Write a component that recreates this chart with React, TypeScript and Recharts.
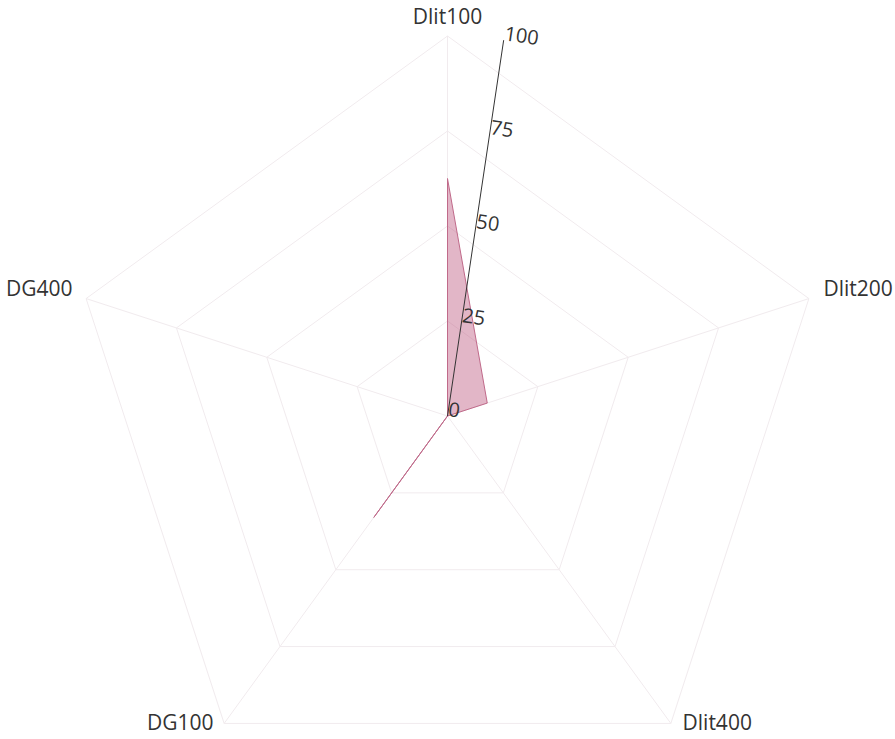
import { PolarAngleAxis, PolarGrid, PolarRadiusAxis, Radar, RadarChart } from "recharts";

const metrics = ["Dlit100", "Dlit200", "Dlit400", "DG100", "DG400"];
const scores = [62.5, 11, 0, 33, 0];
const radiusTicks = [0, 25, 50, 75, 100];

const data = metrics.map((m, i) => ({ metric: m, value: scores[i] }));

// angle labels sit with their baseline on the tick point, nudged sideways
function AngleTick(props: any) {
  const { x, y, textAnchor, payload } = props;
  const dx = textAnchor === "start" ? 7 : textAnchor === "end" ? -6 : 0;
  const dy = textAnchor === "middle" ? -4 : 0;
  return (
    <text x={x + dx} y={y + dy} textAnchor={textAnchor} fill="#333" fontSize={21}>
      {payload.value}
    </text>
  );
}

export default function App() {
  return (
    <div style={{ position: "absolute", left: 0, top: 0, fontFamily: "'Open Sans', sans-serif" }}>
      <RadarChart
        width={895}
        height={739}
        data={data}
        cx={447.5}
        cy={416}
        outerRadius={380}
        margin={{ top: 0, right: 0, bottom: 0, left: 0 }}
      >
        <PolarGrid stroke="#f1ebee" />
        <PolarAngleAxis dataKey="metric" tickLine={false} axisLine={false} tick={<AngleTick />} />
        <PolarRadiusAxis
          angle={81.5}
          domain={[0, 100]}
          ticks={radiusTicks}
          tickLine={false}
          stroke="#333"
          tick={{ fill: "#333", fontSize: 20 }}
        />
        <Radar
          dataKey="value"
          stroke="#c06a8a"
          strokeWidth={1}
          fill="#b9507a"
          fillOpacity={0.42}
          isAnimationActive={false}
        />
      </RadarChart>
    </div>
  );
}
